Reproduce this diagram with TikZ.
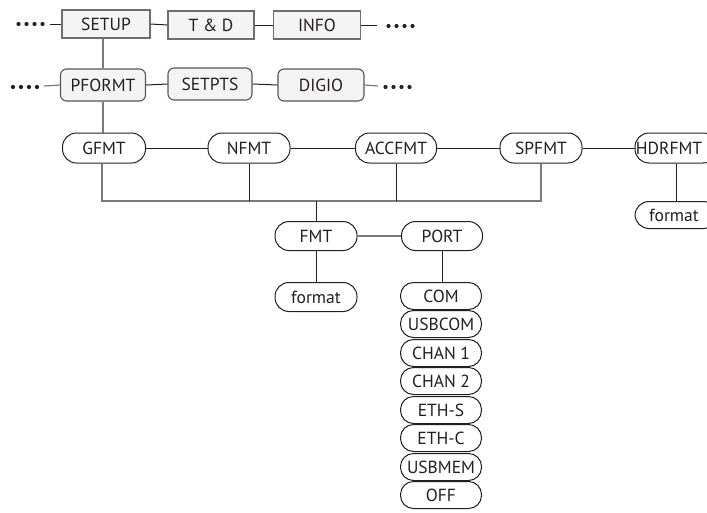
\documentclass[tikz,border=0pt]{standalone}
\usepackage{fontspec}
\setmainfont{PT Sans}
\definecolor{ink}{HTML}{231F20}
\definecolor{greyline}{HTML}{7A7A7A}
\definecolor{boxfill}{HTML}{F4F4F4}
\tikzset{
  base/.style={inner sep=0pt, font=\fontsize{17.5}{18}\selectfont, text=ink},
  topbox/.style={base, rectangle, draw=greyline!90!black, fill=boxfill, line width=1.1pt, minimum width=87pt, minimum height=28pt},
  rbox/.style={base, rectangle, rounded corners=6pt, draw=greyline!70!black, fill=boxfill, line width=1.1pt, minimum width=85pt, minimum height=32pt},
  pill/.style={base, rectangle, rounded corners=14pt, draw=ink, fill=white, line width=1pt, minimum width=82pt, minimum height=29pt},
  slim/.style={pill, rounded corners=13pt, minimum width=81pt, minimum height=27pt},
  gline/.style={draw=greyline, line width=1.2pt},
  bline/.style={draw=ink, line width=1pt},
}
\begin{document}
\begin{tikzpicture}[x=1pt,y=-1pt]
\clip (0,0) rectangle (707,512);
% top row
\node[topbox, minimum width=88pt] (setup) at (106,24) {SETUP};
\node[topbox, minimum width=86pt] (td) at (211,25) {T \& D};
\node[topbox] (info) at (317,25) {INFO};
% second row
\node[rbox] (pformt) at (103,85) {PFORMT};
\node[rbox, minimum width=84pt] (setpts) at (210,84) {SETPTS};
\node[rbox, minimum width=86pt] (digio) at (321,85) {DIGIO};
% third row
\node[pill, minimum width=83pt, minimum height=30pt] (gfmt) at (104,148) {GFMT};
\node[pill, minimum height=30pt] (nfmt) at (249,148) {NFMT};
\node[pill, minimum width=81pt, minimum height=30pt] (accfmt) at (396,148) {ACCFMT};
\node[pill, minimum height=30pt] (spfmt) at (541,148) {SPFMT};
\node[pill, minimum height=30pt] (hdrfmt) at (676,148) {\hspace*{-14pt}HDRFMT};
\node[pill, minimum height=27pt] (formatb) at (676,215) {\hspace*{-4pt}format};
% fmt / port
\node[pill] (fmt) at (316,236) {FMT};
\node[pill, minimum width=81pt] (port) at (442,236) {PORT};
\node[pill] (formata) at (316,297) {format};
% port list
\node[slim] (com) at (441,296) {COM};
\node[slim] (usbcom) at (441,324) {USBCOM};
\node[slim] (chan1) at (441,353) {CHAN 1};
\node[slim] (chan2) at (441,381) {CHAN 2};
\node[slim] (eths) at (441,410) {ETH-S};
\node[slim] (ethc) at (441,438) {ETH-C};
\node[slim] (usbmem) at (441,467) {USBMEM};
\node[slim] (off) at (441,495) {OFF};
% dots
\coordinate (l1) at (50,24);
\coordinate (r1) at (377,25);
\coordinate (l2) at (44,86);
\coordinate (r2) at (378,86);
\foreach \x in {18.5,26.5,34.5,42.5} \fill[ink] (\x,24) circle (2.1pt);
\foreach \x in {388.5,396.5,404.5,412.5} \fill[ink] (\x,26) circle (2.1pt);
\foreach \x in {13,21,29,37} \fill[ink] (\x,87) circle (2.1pt);
\foreach \x in {385.5,393.5,401.5,409.5} \fill[ink] (\x,87) circle (2.1pt);
% top connectors
\draw[bline] (l1) -- (setup.west);
\draw[bline] (setup.east) -- (td.west);
\draw[bline] (td.east) -- (info.west);
\draw[bline] (info.east) -- (r1);
\draw[gline] (pformt.north |- setup.south) -- (pformt.north);
\draw[gline] (l2) -- (pformt.west);
\draw[bline] (pformt.east) -- (setpts.west);
\draw[bline] (setpts.east) -- (digio.west);
\draw[gline] (digio.east) -- (r2);
\draw[gline] (pformt.south) -- (pformt.south |- gfmt.north);
% third row connectors
\draw[bline] (gfmt.east) -- (nfmt.west);
\draw[bline] (nfmt.east) -- (accfmt.west);
\draw[bline] (accfmt.east) -- (spfmt.west);
\draw[bline] (spfmt.east) -- (hdrfmt.west);
\draw[bline] (hdrfmt.south) -- (formatb.north);
% bus
\coordinate (bus) at (316,201);
\draw[gline] ([xshift=-2pt]gfmt.south) -- ([xshift=-2pt]gfmt.south |- bus) -| (spfmt.south);
\draw[bline] (nfmt.south) -- (nfmt.south |- bus);
\draw[bline] (accfmt.south) -- (accfmt.south |- bus);
\draw[bline] (bus) -- (fmt.north);
% fmt / port
\draw[gline] (fmt.east) -- (port.west);
\draw[bline] (fmt.south) -- (formata.north);
\draw[bline] (port.south) -- (port.south |- com.north);
\end{tikzpicture}
\end{document}
